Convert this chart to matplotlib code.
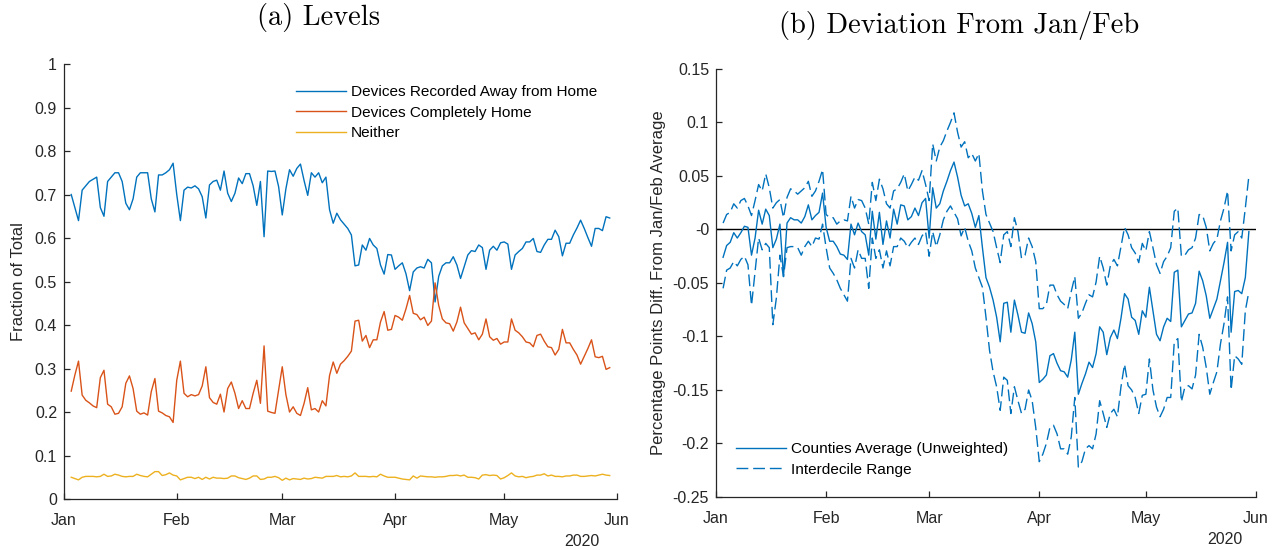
import numpy as np
import matplotlib
matplotlib.use('Agg')
import matplotlib.pyplot as plt
import matplotlib.dates as mdates
from matplotlib.ticker import FuncFormatter

plt.rcParams['font.family'] = 'Liberation Sans'
plt.rcParams['axes.unicode_minus'] = False

# daily series, Jan 3 - May 30 2020 (one row per month)
dates = np.arange('2020-01-03', '2020-05-31', dtype='datetime64[D]')

away = (
    [0.70, 0.67, 0.64, 0.71, 0.72, 0.73, 0.735, 0.74, 0.67, 0.65, 0.73, 0.74, 0.75, 0.75, 0.73,
     0.68, 0.665, 0.69, 0.74, 0.75, 0.75, 0.75, 0.69, 0.66, 0.745, 0.745, 0.75, 0.757, 0.772] +
    [0.70, 0.64, 0.71, 0.717, 0.715, 0.72, 0.713, 0.695, 0.646, 0.722, 0.73, 0.733, 0.71, 0.754, 0.703,
     0.684, 0.703, 0.738, 0.725, 0.748, 0.748, 0.72, 0.675, 0.73, 0.603, 0.754, 0.753, 0.754, 0.718] +
    [0.653, 0.713, 0.757, 0.742, 0.76, 0.77, 0.732, 0.698, 0.75, 0.74, 0.75, 0.727, 0.74, 0.665, 0.634, 0.657,
     0.642, 0.632, 0.622, 0.607, 0.536, 0.538, 0.584, 0.572, 0.599, 0.584, 0.576, 0.538, 0.517, 0.562, 0.561] +
    [0.528, 0.536, 0.543, 0.518, 0.479, 0.522, 0.531, 0.534, 0.531, 0.551, 0.543, 0.453, 0.512, 0.536, 0.543,
     0.543, 0.557, 0.538, 0.507, 0.534, 0.561, 0.571, 0.569, 0.584, 0.578, 0.528, 0.572, 0.581, 0.572, 0.589] +
    [0.591, 0.586, 0.528, 0.561, 0.569, 0.576, 0.591, 0.591, 0.599, 0.569, 0.567, 0.584, 0.597, 0.597, 0.618,
     0.603, 0.559, 0.588, 0.588, 0.607, 0.623, 0.641, 0.622, 0.601, 0.581, 0.622, 0.622, 0.617, 0.649, 0.646]
)

home = (
    [0.248, 0.285, 0.317, 0.239, 0.227, 0.221, 0.214, 0.21, 0.279, 0.296, 0.218, 0.212, 0.195, 0.197, 0.212,
     0.266, 0.283, 0.254, 0.202, 0.195, 0.198, 0.193, 0.247, 0.277, 0.202, 0.198, 0.192, 0.189, 0.176] +
    [0.273, 0.317, 0.243, 0.235, 0.24, 0.237, 0.24, 0.26, 0.304, 0.233, 0.222, 0.218, 0.241, 0.2, 0.254,
     0.269, 0.243, 0.208, 0.226, 0.208, 0.208, 0.243, 0.273, 0.22, 0.352, 0.202, 0.199, 0.197, 0.25] +
    [0.304, 0.24, 0.2, 0.212, 0.197, 0.192, 0.22, 0.256, 0.205, 0.208, 0.2, 0.226, 0.214, 0.284, 0.315, 0.289,
     0.31, 0.318, 0.328, 0.34, 0.409, 0.411, 0.363, 0.376, 0.348, 0.366, 0.366, 0.407, 0.431, 0.388, 0.39] +
    [0.422, 0.418, 0.411, 0.437, 0.468, 0.427, 0.424, 0.412, 0.418, 0.399, 0.409, 0.497, 0.445, 0.414, 0.405,
     0.403, 0.386, 0.407, 0.441, 0.405, 0.392, 0.379, 0.382, 0.366, 0.379, 0.414, 0.373, 0.365, 0.369, 0.356] +
    [0.361, 0.361, 0.414, 0.388, 0.382, 0.373, 0.361, 0.359, 0.35, 0.376, 0.379, 0.363, 0.35, 0.348, 0.331,
     0.344, 0.39, 0.359, 0.359, 0.344, 0.331, 0.31, 0.328, 0.346, 0.366, 0.327, 0.325, 0.328, 0.298, 0.302]
)

neither = (
    [0.050, 0.047, 0.044, 0.050, 0.052, 0.052, 0.052, 0.051, 0.052, 0.057, 0.052, 0.053, 0.057, 0.055, 0.052,
     0.051, 0.052, 0.052, 0.057, 0.054, 0.052, 0.051, 0.057, 0.063, 0.063, 0.054, 0.056, 0.060, 0.055] +
    [0.053, 0.044, 0.047, 0.050, 0.050, 0.047, 0.050, 0.045, 0.050, 0.046, 0.050, 0.048, 0.048, 0.047, 0.048,
     0.053, 0.053, 0.049, 0.047, 0.045, 0.048, 0.053, 0.053, 0.045, 0.046, 0.050, 0.050, 0.052, 0.049] +
    [0.043, 0.048, 0.044, 0.047, 0.046, 0.045, 0.048, 0.046, 0.047, 0.050, 0.049, 0.048, 0.052, 0.052, 0.052, 0.054,
     0.051, 0.052, 0.051, 0.053, 0.060, 0.052, 0.052, 0.052, 0.051, 0.052, 0.051, 0.057, 0.053, 0.050, 0.050] +
    [0.050, 0.048, 0.046, 0.045, 0.044, 0.053, 0.048, 0.053, 0.052, 0.051, 0.051, 0.050, 0.051, 0.051, 0.052,
     0.054, 0.054, 0.055, 0.053, 0.055, 0.050, 0.050, 0.049, 0.046, 0.055, 0.056, 0.054, 0.055, 0.054, 0.046] +
    [0.049, 0.054, 0.060, 0.053, 0.051, 0.052, 0.049, 0.051, 0.052, 0.055, 0.055, 0.058, 0.053, 0.055, 0.052,
     0.052, 0.051, 0.053, 0.053, 0.055, 0.055, 0.052, 0.052, 0.053, 0.054, 0.053, 0.055, 0.057, 0.055, 0.054]
)

# deviation from Jan/Feb average, county mean and 10th/90th percentiles
dev_mean = (
    [-0.026, -0.015, -0.012, -0.003, -0.008, -0.003, 0.003, 0.002, -0.024, -0.008, 0.018, 0.005, 0.019, 0.013, -0.017,
     -0.009, 0.005, -0.044, 0.006, 0.011, 0.009, 0.009, 0.006, 0.012, 0.023, 0.009, 0.013, 0.016, 0.034] +
    [0.002, -0.011, -0.011, -0.016, -0.023, -0.024, -0.028, 0.005, -0.005, 0.006, -0.002, -0.005, -0.024, 0.017, -0.009,
     0.016, -0.014, 0.008, -0.008, 0.019, 0.005, 0.023, 0.022, 0.009, 0.012, 0.02, 0.013, 0.025, 0.029] +
    [-0.008, 0.039, 0.02, 0.024, 0.036, 0.045, 0.055, 0.063, 0.049, 0.032, 0.022, 0.024, 0.015, 0.002, 0.013, -0.017,
     -0.045, -0.054, -0.066, -0.082, -0.105, -0.069, -0.068, -0.096, -0.066, -0.08, -0.096, -0.097, -0.078, -0.088, -0.105] +
    [-0.143, -0.14, -0.136, -0.118, -0.116, -0.125, -0.132, -0.133, -0.138, -0.122, -0.096, -0.154, -0.144, -0.135, -0.124,
     -0.129, -0.116, -0.091, -0.096, -0.117, -0.101, -0.094, -0.102, -0.083, -0.06, -0.065, -0.082, -0.085, -0.098, -0.076] +
    [-0.082, -0.054, -0.076, -0.098, -0.104, -0.091, -0.083, -0.086, -0.04, -0.038, -0.091, -0.085, -0.079, -0.078, -0.069,
     -0.039, -0.048, -0.062, -0.083, -0.074, -0.065, -0.048, -0.031, -0.012, -0.096, -0.058, -0.057, -0.06, -0.045, -0.002]
)

dev_p90 = (
    [0.006, 0.014, 0.016, 0.024, 0.02, 0.027, 0.029, 0.022, 0.013, 0.027, 0.042, 0.036, 0.052, 0.039, 0.02,
     0.025, 0.028, 0.011, 0.03, 0.038, 0.036, 0.033, 0.036, 0.039, 0.045, 0.031, 0.036, 0.045, 0.056] +
    [0.014, 0.011, 0.011, 0.005, 0.008, 0.009, 0.008, 0.031, 0.02, 0.028, 0.027, 0.02, 0.005, 0.044, 0.027,
     0.047, 0.038, 0.024, 0.02, 0.036, 0.038, 0.044, 0.052, 0.036, 0.042, 0.049, 0.046, 0.055, 0.042] +
    [0.027, 0.08, 0.064, 0.077, 0.083, 0.092, 0.1, 0.109, 0.091, 0.077, 0.082, 0.067, 0.071, 0.064, 0.071, 0.036,
     0.014, 0.006, -0.002, -0.017, -0.031, -0.005, -0.002, -0.016, 0.011, -0.002, -0.027, -0.024, -0.008, -0.016, -0.03] +
    [-0.074, -0.074, -0.07, -0.052, -0.052, -0.061, -0.067, -0.07, -0.074, -0.058, -0.044, -0.083, -0.078, -0.069, -0.061,
     -0.063, -0.049, -0.025, -0.036, -0.052, -0.034, -0.028, -0.034, -0.016, 0.002, -0.005, -0.017, -0.022, -0.031, -0.013] +
    [-0.02, -0.002, -0.017, -0.033, -0.041, -0.03, -0.025, -0.017, 0.017, 0.02, -0.025, -0.024, -0.019, -0.017, -0.008,
     0.014, 0.013, 0.002, -0.02, -0.013, -0.009, 0.008, 0.02, 0.036, -0.02, -0.005, -0.002, -0.008, 0.02, 0.05]
)

dev_p10 = (
    [-0.055, -0.038, -0.036, -0.03, -0.034, -0.028, -0.025, -0.033, -0.071, -0.039, -0.008, -0.019, -0.013, -0.017, -0.089,
     -0.064, -0.024, -0.044, -0.017, -0.016, -0.016, -0.017, -0.024, -0.016, -0.011, -0.016, -0.008, -0.009, 0.005] +
    [-0.017, -0.036, -0.041, -0.047, -0.055, -0.061, -0.067, -0.027, -0.036, -0.019, -0.027, -0.027, -0.055, -0.008, -0.027,
     -0.019, -0.036, -0.02, -0.034, -0.016, -0.016, -0.008, -0.011, -0.017, -0.012, -0.008, -0.014, -0.006, -0.002] +
    [-0.025, -0.002, -0.016, -0.005, 0.009, 0.017, 0.022, 0.016, 0.01, -0.006, 0.002, -0.011, -0.02, -0.036, -0.045, -0.054,
     -0.082, -0.113, -0.133, -0.147, -0.169, -0.138, -0.141, -0.172, -0.147, -0.16, -0.172, -0.168, -0.15, -0.16, -0.185] +
    [-0.217, -0.21, -0.2, -0.185, -0.183, -0.191, -0.205, -0.205, -0.21, -0.194, -0.157, -0.222, -0.217, -0.205, -0.202,
     -0.205, -0.191, -0.16, -0.172, -0.185, -0.172, -0.168, -0.175, -0.147, -0.126, -0.146, -0.15, -0.157, -0.172, -0.155] +
    [-0.154, -0.121, -0.15, -0.166, -0.175, -0.168, -0.157, -0.157, -0.105, -0.102, -0.161, -0.147, -0.146, -0.149, -0.136,
     -0.098, -0.11, -0.129, -0.154, -0.143, -0.133, -0.107, -0.088, -0.063, -0.15, -0.118, -0.121, -0.126, -0.076, -0.058]
)

blue = '#0072BD'
orange = '#D95319'
yellow = '#EDB120'
axcol = '#262626'

fig = plt.figure(figsize=(12.79, 5.5), dpi=100)
ax1 = fig.add_axes([0.0500, 0.0927, 0.4324, 0.7909])
ax2 = fig.add_axes([0.5598, 0.0964, 0.4222, 0.7782])

# (a) levels
ax1.plot(dates, away, color=blue, lw=1.0, label='Devices Recorded Away from Home')
ax1.plot(dates, home, color=orange, lw=1.0, label='Devices Completely Home')
ax1.plot(dates, neither, color=yellow, lw=1.0, label='Neither')
ax1.set_ylim(0, 1)
ax1.set_yticks(np.arange(0, 1.01, 0.1))
ax1.set_ylabel('Fraction of Total', fontsize=12, color=axcol, labelpad=6)
ax1.legend(loc='upper left', bbox_to_anchor=(296 / 1279, 1 - 85 / 550), bbox_transform=fig.transFigure,
           frameon=False, fontsize=11.1, handlelength=3.25, handletextpad=0.3, labelspacing=0.43,
           borderpad=0, borderaxespad=0)

# (b) deviations
ax2.axhline(0, color='k', lw=1.0)
ax2.plot(dates, dev_mean, color=blue, lw=1.0, label='Counties Average (Unweighted)')
ax2.plot(dates, dev_p90, color=blue, lw=1.0, dashes=(8.5, 3.5), label='Interdecile Range')
ax2.plot(dates, dev_p10, color=blue, lw=1.0, dashes=(8.5, 3.5))
ax2.set_ylim(-0.25, 0.15)
ax2.set_yticks(np.arange(-0.25, 0.151, 0.05))
ax2.set_ylabel('Percentage Points Diff. From Jan/Feb Average', fontsize=12, color=axcol, labelpad=5)
ax2.legend(loc='upper left', bbox_to_anchor=(736 / 1279, 1 - 442 / 550), bbox_transform=fig.transFigure,
           frameon=False, fontsize=11.1, handlelength=3.25, handletextpad=0.3, labelspacing=0.43,
           borderpad=0, borderaxespad=0)

fmt = FuncFormatter(lambda v, p: '%g' % round(v, 2))
for ax in (ax1, ax2):
    ax.spines[['top', 'right']].set_visible(False)
    for s in ('left', 'bottom'):
        ax.spines[s].set_color(axcol)
        ax.spines[s].set_linewidth(0.9)
    ax.set_xlim(np.datetime64('2020-01-01'), np.datetime64('2020-06-01'))
    ax.xaxis.set_major_locator(mdates.MonthLocator())
    ax.xaxis.set_major_formatter(mdates.DateFormatter('%b'))
    ax.yaxis.set_major_formatter(fmt)
    ax.tick_params(direction='in', length=4, width=0.9, colors=axcol, labelsize=11.5)
    ax.tick_params(axis='x', pad=10)
    ax.tick_params(axis='y', pad=5)

fig.text(582 / 1279, 1 - 542 / 550, '2020', ha='center', va='center', fontsize=11.5, color=axcol)
fig.text(1225 / 1279, 1 - 540 / 550, '2020', ha='center', va='center', fontsize=11.5, color=axcol)

fig.text(319 / 1279, 1 - 18 / 550, '(a) Levels', ha='center', va='center', fontsize=20.5, family='cmr10')
fig.text(959 / 1279, 1 - 25 / 550, '(b) Deviation From Jan/Feb', ha='center', va='center',
         fontsize=20.5, family='cmr10')

fig.savefig('out.png', dpi=100)
